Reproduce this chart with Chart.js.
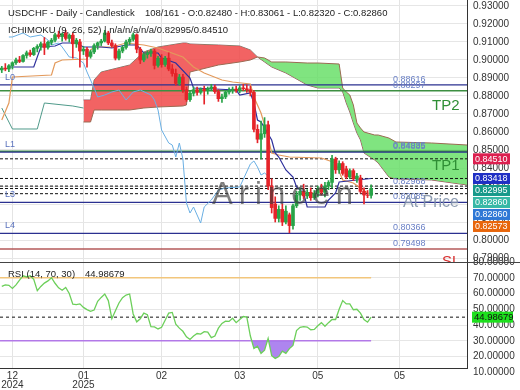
<!DOCTYPE html>
<html>
<head>
<meta charset="utf-8">
<script src="https://cdn.jsdelivr.net/npm/chart.js@4.4.1/dist/chart.umd.min.js"></script>
<style>
html, body { margin: 0; padding: 0; background: #fff; }
#quadro { position: relative; width: 520px; height: 390px; overflow: hidden; }
#graficoPreco { position: absolute; left: 0; top: 0; }
#graficoRsi { position: absolute; left: 0; top: 254px; }
</style>
</head>
<body>
<div id="quadro">
	<canvas id="graficoPreco" width="520" height="262"></canvas>
	<canvas id="graficoRsi" width="520" height="136"></canvas>
</div>
<script>
// velas diarias USDCHF (indice 0 = primeira barra visivel)
var velaAbertura = [0.8945,0.8955,0.8950,0.8968,0.8985,0.9000,0.8992,0.9025,0.9040,0.9030,
	0.9065,0.9075,0.9090,0.9070,0.9098,0.9110,0.9140,0.9130,0.9150,0.9120,
	0.9138,0.9090,0.9100,0.9050,0.9060,0.9020,0.9045,0.9080,0.9095,0.9105,
	0.9150,0.9095,0.9080,0.9010,0.9050,0.9070,0.9100,0.9115,0.9140,0.9060,
	0.9000,0.9030,0.9040,0.9050,0.8970,0.9010,0.8975,0.9010,0.8950,0.8925,
	0.8870,0.8905,0.8835,0.8780,0.8815,0.8835,0.8820,0.8838,0.8830,0.8842,
	0.8850,0.8825,0.8785,0.8795,0.8822,0.8830,0.8838,0.8832,0.8845,0.8840,
	0.8835,0.8820,0.8615,0.8560,0.8590,0.8640,0.8300,0.8200,0.8120,0.8170,
	0.8100,0.8140,0.8080,0.8190,0.8250,0.8270,0.8245,0.8265,0.8235,0.8260,
	0.8285,0.8265,0.8300,0.8320,0.8450,0.8390,0.8425,0.8395,0.8350,0.8385,
	0.8340,0.8345,0.8270,0.8250,0.82480];
var velaMaxima = [0.8965,0.8980,0.8975,0.8990,0.9010,0.9020,0.9030,0.9050,0.9055,0.9070,
	0.9085,0.9100,0.9125,0.9105,0.9120,0.9150,0.9160,0.9150,0.9165,0.9145,
	0.9150,0.9120,0.9115,0.9075,0.9070,0.9055,0.9090,0.9100,0.9115,0.9165,
	0.9160,0.9110,0.9090,0.9060,0.9080,0.9110,0.9125,0.9150,0.9145,0.9070,
	0.9040,0.9050,0.9060,0.9060,0.9020,0.9030,0.9020,0.9040,0.8975,0.8950,
	0.8920,0.8920,0.8850,0.8830,0.8850,0.8850,0.8845,0.8855,0.8850,0.8865,
	0.8860,0.8835,0.8810,0.8830,0.8845,0.8850,0.8855,0.8858,0.8865,0.8862,
	0.8855,0.8830,0.8640,0.8660,0.8680,0.8660,0.8340,0.8240,0.8190,0.8200,
	0.8190,0.8150,0.8200,0.8270,0.8290,0.8310,0.8280,0.8290,0.8275,0.8300,
	0.8310,0.8320,0.8330,0.8470,0.8460,0.8440,0.8435,0.8410,0.8395,0.8395,
	0.8370,0.8360,0.8290,0.8275,0.83061];
var velaMinima = [0.8930,0.8940,0.8935,0.8950,0.8975,0.8985,0.8988,0.9010,0.9020,0.9025,
	0.9045,0.9055,0.9030,0.9060,0.9085,0.9100,0.9120,0.9105,0.9110,0.9100,
	0.9010,0.9070,0.8960,0.9030,0.8960,0.9010,0.9035,0.9060,0.9080,0.9100,
	0.9085,0.9070,0.9000,0.9000,0.9040,0.9060,0.9085,0.9105,0.9040,0.8980,
	0.8990,0.9010,0.9020,0.8950,0.8960,0.8960,0.8965,0.8940,0.8910,0.8860,
	0.8860,0.8820,0.8770,0.8770,0.8800,0.8805,0.8810,0.8755,0.8810,0.8830,
	0.8815,0.8770,0.8765,0.8785,0.8810,0.8815,0.8820,0.8818,0.8830,0.8820,
	0.8800,0.8600,0.8540,0.8450,0.8570,0.8280,0.8150,0.8100,0.8100,0.8080,
	0.8090,0.8040,0.8060,0.8180,0.8220,0.8230,0.8230,0.8220,0.8225,0.8240,
	0.8250,0.8240,0.8280,0.8290,0.8370,0.8370,0.8360,0.8340,0.8340,0.8330,
	0.8320,0.8260,0.8200,0.8235,0.82320];
var velaFechamento = [0.8955,0.8950,0.8968,0.8985,0.9000,0.8992,0.9025,0.9040,0.9030,0.9065,
	0.9075,0.9090,0.9070,0.9098,0.9110,0.9140,0.9130,0.9145,0.9120,0.9138,
	0.9090,0.9110,0.9050,0.9060,0.9020,0.9045,0.9080,0.9095,0.9105,0.9150,
	0.9095,0.9080,0.9010,0.9050,0.9070,0.9100,0.9115,0.9140,0.9060,0.9000,
	0.9030,0.9040,0.9050,0.8970,0.9010,0.8975,0.9010,0.8950,0.8925,0.8870,
	0.8905,0.8835,0.8780,0.8815,0.8835,0.8820,0.8838,0.8830,0.8842,0.8850,
	0.8825,0.8785,0.8795,0.8822,0.8830,0.8838,0.8832,0.8845,0.8840,0.8835,
	0.8820,0.8615,0.8560,0.8590,0.8640,0.8300,0.8180,0.8120,0.8170,0.8100,
	0.8160,0.8080,0.8190,0.8250,0.8270,0.8245,0.8265,0.8235,0.8260,0.8285,
	0.8265,0.8300,0.8320,0.8450,0.8390,0.8425,0.8370,0.8350,0.8385,0.8340,
	0.8355,0.8270,0.8250,0.8248,0.82860];

// RSI(14) por barra
var rsiValores = [64.5,65.5,65.2,63.2,65.5,68.5,71.2,70.5,71.3,69,
	61.8,64.5,66.6,68,70,66.5,63.6,62.1,63.8,60,
	53.2,53,53.4,51.2,49.8,48.7,49.5,55,57.5,59.7,
	55.5,44,49,54,57.4,59,59.7,47,42,44,
	47.5,46.5,39,38.8,37.5,38.5,43,47.5,48,40.5,
	38,36,32.5,30.8,33,34.6,34.2,35.8,35.5,32,
	33,38,41,42.4,42.3,44.3,41.5,43.5,45.4,45,
	33,25.1,26.5,22,24,31.5,20.5,18.8,20,23.4,
	22,25,27,36.5,38.5,39,38.7,37,37.2,39.5,
	41.5,39.2,41.5,43.5,43.5,50,55.5,53.4,53.4,49.7,
	50,47.5,43.5,41.8,44.98679];
var rsiAtual = 44.98679;

// eixo de tempo
var mesesIdx = [3, 23, 45, 67, 89, 112];
var mesesRotulos = [['12', '2024'], ['01', '2025'], '02', '03', '05', '05'];
var precoTicks = [0.79, 0.80, 0.81, 0.82, 0.83, 0.84, 0.85, 0.86, 0.87, 0.88, 0.89, 0.90, 0.91, 0.92, 0.93];
var rsiTicks = [80, 70, 60, 50, 40, 30, 20, 10];

// ichimoku (9, 26, 52)
var tenkanIdx = [2, 9, 11, 15, 17, 21, 23, 28, 31, 35, 38, 40, 44, 45, 49, 53, 54, 66, 67, 70, 71, 72, 73, 76, 77, 78, 80, 82, 83, 85, 86, 91, 92, 94, 95, 100, 104];
var tenkanVal = [0.89611, 0.89611, 0.90722, 0.90778, 0.90944, 0.90944, 0.90722, 0.90722, 0.90667, 0.90833,
	0.90833, 0.90389, 0.90389, 0.90111, 0.89833, 0.89000, 0.88444, 0.88333, 0.88056, 0.88167,
	0.87611, 0.86667, 0.86556, 0.85556, 0.84833, 0.84611, 0.83889, 0.83500, 0.82944, 0.82611,
	0.81833, 0.81833, 0.82222, 0.82611, 0.83222, 0.83333, 0.83418];
var kijunIdx = [0, 2, 3, 14, 15, 17, 24, 25, 26, 31, 35, 40, 44, 51, 54, 57, 62, 65, 70, 71, 73, 75, 76, 78, 81, 90, 94, 96, 99, 101, 103, 104];
var kijunVal = [0.86667, 0.87611, 0.89056, 0.89167, 0.89833, 0.90000, 0.90056, 0.90556, 0.90722, 0.90722,
	0.90944, 0.90833, 0.90667, 0.90167, 0.89611, 0.89278, 0.88889, 0.88778, 0.88667, 0.87944,
	0.87056, 0.85722, 0.84833, 0.84722, 0.84611, 0.84556, 0.84278, 0.83333, 0.83167, 0.82889,
	0.82611, 0.82573];
var chikouIdx = [2, 3, 6, 8, 11, 13, 14, 16, 17, 19, 21, 23, 24, 25, 26, 27, 29, 31, 33, 35,
	37, 39, 42, 43, 44, 45, 47, 48, 49, 50, 51, 52, 53, 54, 55, 56, 57, 59, 61, 63,
	67, 70, 71, 72, 73, 74, 75];
var chikouVal = [0.91278, 0.91278, 0.91500, 0.91278, 0.91389, 0.91111, 0.90833, 0.90944, 0.90722, 0.90167,
	0.90111, 0.89833, 0.89333, 0.88889, 0.88444, 0.87944, 0.88056, 0.88222, 0.88333, 0.87778,
	0.88222, 0.88333, 0.88056, 0.87778, 0.87222, 0.86111, 0.85389, 0.85278, 0.84611, 0.85389,
	0.84500, 0.82056, 0.81500, 0.81833, 0.81389, 0.80944, 0.81833, 0.82222, 0.82778, 0.82889,
	0.82944, 0.84222, 0.84389, 0.84056, 0.83611, 0.83722, 0.83556];
var spanInicioIdx = [0, 3, 10, 12, 20, 23];
var spanInicioVal = [0.87333, 0.86167, 0.86167, 0.87611, 0.87444, 0.87333];
var nuvemIdx = [23, 25, 26, 28, 36, 40, 44, 51, 52, 53, 61, 67, 70, 72, 74, 76, 80, 86, 89, 95,
	96, 97, 98, 99, 100, 101, 102, 105, 106, 109, 111, 121, 131];
var nuvemA = [0.86556, 0.86556, 0.87222, 0.87222, 0.87222, 0.87333, 0.87389, 0.87444, 0.87500, 0.89333,
	0.89722, 0.89889, 0.90000, 0.90167, 0.90111, 0.89889, 0.89889, 0.89833, 0.89833, 0.89778,
	0.88444, 0.88222, 0.88056, 0.87500, 0.86500, 0.86222, 0.86000, 0.85833, 0.85833, 0.85667,
	0.85444, 0.85389, 0.85278];
var nuvemB = [0.87778, 0.87778, 0.88889, 0.89333, 0.89722, 0.90444, 0.90722, 0.90944, 0.90944, 0.90889,
	0.90833, 0.90778, 0.90556, 0.90167, 0.89889, 0.89611, 0.89278, 0.88611, 0.88444, 0.88444,
	0.88222, 0.87611, 0.87111, 0.86500, 0.85944, 0.85556, 0.84833, 0.84444, 0.84278, 0.83500,
	0.83389, 0.83333, 0.83056];

// niveis desenhados
var nivelAzul = [0.88616, 0.84885, 0.82085, 0.80366];
var nivelAzulNome = ['L0', 'L1', 'L3', 'L4'];
var nivelVerde = [0.88297, 0.84935];
var nivelVerdeNome = ['TP2', 'TP1'];
var nivelStop = 0.79498;
var nivelTracejado = [0.84510, 0.83418, 0.82995, 0.82860, 0.82573];
var rotulosValor = [0.88616, 0.88297, 0.84885, 0.84935, 0.82968, 0.82085, 0.80366, 0.79498];
var etiquetaValor = [0.84510, 0.83418, 0.82995, 0.82860, 0.82860, 0.82573];
var etiquetaCor = ['#dc1f4f', '#1f2fc4', '#17998a', '#37b8a6', '#2f78d6', '#e8660c'];

var xMin = -0.5, xMax = 131;
var precoMin = 0.78778, precoMax = 0.93333;
var fonte = '"Liberation Sans", Arial, sans-serif';

Chart.defaults.font.family = fonte;
Chart.defaults.animation = false;

function pontos(xs, ys) {
	return xs.map(function(x, i) { return {x: x, y: ys[i]}; });
}
function linhaReta(v, x0, x1) {
	return [{x: x0, y: v}, {x: x1, y: v}];
}
function linha(dados, cor, largura, ordem) {
	return {type: 'line', data: dados, borderColor: cor, borderWidth: largura, pointRadius: 0, tension: 0, fill: false, order: ordem};
}
function eixoDireita(escala) {
	escala.width = 53;
	escala.paddingTop = 0;
	escala.paddingBottom = 0;
}

var Grafico = {};

Grafico.Preco = (function() {

	function Preco() {
		this.ctx = document.getElementById('graficoPreco').getContext('2d');
	}

	Preco.prototype.iniciar = function() {
		var verde = '#27a347', vermelho = '#e52329';
		var cores = velaAbertura.map(function(o, i) { return velaFechamento[i] >= o ? verde : vermelho; });
		var corpos = velaAbertura.map(function(o, i) {
			var c = velaFechamento[i];
			return {x: i, y: [Math.min(o, c), Math.max(o, c)]};
		});
		var pavios = velaMinima.map(function(l, i) { return {x: i, y: [l, velaMaxima[i]]}; });

		var conjuntos = [
			{type: 'bar', data: corpos, backgroundColor: cores, barThickness: 3, grouped: false, order: 0},
			{type: 'bar', data: pavios, backgroundColor: cores, barThickness: 1, grouped: false, order: 1},
			linha(pontos(tenkanIdx, tenkanVal), '#2d2f9c', 1.2, 2),
			linha(pontos(kijunIdx, kijunVal), '#e39a5c', 1.2, 2),
			linha(pontos(chikouIdx, chikouVal), '#6aafe3', 1, 2),
			linha(pontos(spanInicioIdx, spanInicioVal), '#4f9a8a', 1, 2)
		];
		nivelAzul.forEach(function(v) { conjuntos.push(linha(linhaReta(v, xMin, xMax), '#2b3090', 1.3, 3)); });
		nivelVerde.forEach(function(v) { conjuntos.push(linha(linhaReta(v, xMin, xMax), '#3d8f42', 1.5, 3)); });
		conjuntos.push(linha(linhaReta(nivelStop, xMin, xMax), '#b45a5a', 1.6, 3));
		nivelTracejado.forEach(function(v) {
			var d = linha(linhaReta(v, xMin, xMax), '#111', 1, 3);
			d.borderDash = [3, 2];
			conjuntos.push(d);
		});
		// nuvem: A preenche ate B (verde acima, vermelho abaixo)
		var a = linha(pontos(nuvemIdx, nuvemA), '#9a6a52', 1, 6);
		a.fill = {target: '+1', above: 'rgba(100,222,100,0.82)', below: 'rgba(240,72,72,0.85)'};
		conjuntos.push(a);
		conjuntos.push(linha(pontos(nuvemIdx, nuvemB), '#8a6a70', 1, 6));

		new Chart(this.ctx, {
			type: 'line',
			data: {datasets: conjuntos},
			options: {
				responsive: false,
				layout: {padding: 0},
				plugins: {legend: {display: false}, tooltip: {enabled: false}},
				scales: {
					x: {
						type: 'linear', min: xMin, max: xMax, offset: false,
						afterBuildTicks: function(s) { s.ticks = mesesIdx.map(function(v) { return {value: v}; }); },
						afterFit: function(s) { s.height = 0; s.paddingLeft = 0; s.paddingRight = 0; },
						ticks: {display: false},
						grid: {color: '#e4e4e4', drawTicks: false, offset: false},
						border: {display: false}
					},
					y: {
						type: 'linear', position: 'right', min: precoMin, max: precoMax,
						afterBuildTicks: function(s) { s.ticks = precoTicks.map(function(v) { return {value: v}; }); },
						afterFit: eixoDireita,
						ticks: {callback: function(v) { return v.toFixed(5); }, font: {size: 10}, color: '#333', padding: 6},
						grid: {color: '#e6e6e6', drawTicks: false},
						border: {color: '#333'}
					}
				}
			},
			plugins: [textosPreco]
		});
	};

	var textosPreco = {
		id: 'textosPreco',
		afterDatasetsDraw: function(chart) {
			var ctx = chart.ctx, y = chart.scales.y, area = chart.chartArea;
			ctx.save();
			ctx.beginPath();
			ctx.rect(area.left, area.top, area.right - area.left, area.bottom - area.top);
			ctx.clip();

			ctx.font = '31px ' + fonte;
			ctx.fillStyle = 'rgba(60,60,60,0.66)';
			if ('letterSpacing' in ctx) ctx.letterSpacing = '6px';
			ctx.fillText('Arincen', 212, 204);
			if ('letterSpacing' in ctx) ctx.letterSpacing = '0px';

			ctx.font = '9px ' + fonte;
			ctx.fillStyle = '#5a72bd';
			nivelAzul.forEach(function(v, i) { ctx.fillText(nivelAzulNome[i], 5, y.getPixelForValue(v) - 5); });
			ctx.fillStyle = '#6a80c6';
			rotulosValor.forEach(function(v) { ctx.fillText(v.toFixed(5), 393, y.getPixelForValue(v) - 3); });

			ctx.font = '15px ' + fonte;
			ctx.fillStyle = '#2f8f35';
			nivelVerde.forEach(function(v, i) { ctx.fillText(nivelVerdeNome[i], 432, y.getPixelForValue(v) + 19); });
			ctx.fillStyle = '#d83030';
			ctx.fillText('SL', 442, y.getPixelForValue(nivelStop) + 17);

			ctx.font = '16px ' + fonte;
			ctx.fillStyle = 'rgba(128,144,168,0.9)';
			ctx.fillText('At Price', 403, y.getPixelForValue(velaFechamento[velaFechamento.length - 1]) + 18);
			ctx.restore();
		},
		afterDraw: function(chart) {
			var ctx = chart.ctx, y = chart.scales.y;
			ctx.save();
			ctx.font = '9px ' + fonte;
			ctx.textBaseline = 'middle';
			var anterior = -100;
			etiquetaValor.forEach(function(v, i) {
				var py = Math.max(y.getPixelForValue(v), anterior + 12);
				anterior = py;
				ctx.fillStyle = etiquetaCor[i];
				ctx.fillRect(473, py - 5.5, 37, 11);
				ctx.fillStyle = '#fff';
				ctx.fillText(v.toFixed(5), 475, py + 0.5);
			});

			ctx.textBaseline = 'alphabetic';
			ctx.font = '9.5px ' + fonte;
			ctx.fillStyle = '#222';
			ctx.fillText('USDCHF - Daily - Candlestick', 8, 16);
			ctx.fillText('108/161 - O:0.82480 - H:0.83061 - L:0.82320 - C:0.82860', 145, 16);
			ctx.fillText('ICHIMOKU (9, 26, 52) | n/a/n/a/n/a/0.82995/0.84510', 8, 33);
			ctx.restore();
		}
	};

	return Preco;

}());

Grafico.Rsi = (function() {

	function Rsi() {
		this.ctx = document.getElementById('graficoRsi').getContext('2d');
	}

	Rsi.prototype.iniciar = function() {
		var ultimoIdx = rsiValores.length - 1;
		var linhaRsi = linha(pontos(rsiValores.map(function(v, i) { return i; }), rsiValores), '#6ccf5a', 1.3, 0);
		linhaRsi.fill = {target: {value: 30}, above: 'rgba(0,0,0,0)', below: 'rgba(160,112,236,0.85)'};
		var tracejado = linha(linhaReta(rsiAtual, xMin, xMax), '#111', 1, 1);
		tracejado.borderDash = [3, 3];

		new Chart(this.ctx, {
			type: 'line',
			data: {
				datasets: [
					linhaRsi,
					linha(linhaReta(70, xMin, ultimoIdx), '#f2c67c', 1.4, 2),
					linha(linhaReta(30, xMin, ultimoIdx), '#b57be8', 1.5, 2),
					tracejado
				]
			},
			options: {
				responsive: false,
				layout: {padding: {top: 8}},
				plugins: {legend: {display: false}, tooltip: {enabled: false}},
				scales: {
					x: {
						type: 'linear', min: xMin, max: xMax, offset: false,
						afterBuildTicks: function(s) { s.ticks = mesesIdx.map(function(v) { return {value: v}; }); },
						afterFit: function(s) { s.height = 22; s.paddingLeft = 0; s.paddingRight = 0; },
						ticks: {
							callback: function(v, i) { return mesesRotulos[i]; },
							autoSkip: false, maxRotation: 0, padding: 3, color: '#333',
							font: {size: 10, lineHeight: 0.95}
						},
						grid: {color: '#e4e4e4', drawTicks: false},
						border: {color: '#333'}
					},
					y: {
						type: 'linear', position: 'right', min: 12.7, max: 80,
						afterBuildTicks: function(s) { s.ticks = rsiTicks.map(function(v) { return {value: v}; }); },
						afterFit: eixoDireita,
						ticks: {callback: function(v) { return v.toFixed(5); }, font: {size: 10}, color: '#333', padding: 6},
						grid: {
							color: function(c) { return (c.tick && (c.tick.value >= 80 || c.tick.value <= 10)) ? 'rgba(0,0,0,0)' : '#e6e6e6'; },
							drawTicks: false
						},
						border: {color: '#333'}
					}
				}
			},
			plugins: [textosRsi]
		});
	};

	var textosRsi = {
		id: 'textosRsi',
		afterDraw: function(chart) {
			var ctx = chart.ctx, y = chart.scales.y, area = chart.chartArea;
			ctx.save();
			ctx.strokeStyle = '#444';
			ctx.lineWidth = 1;
			ctx.beginPath();
			ctx.moveTo(0, area.top + 0.5);
			ctx.lineTo(chart.width, area.top + 0.5);
			ctx.stroke();

			ctx.font = '9.5px ' + fonte;
			ctx.fillStyle = '#222';
			ctx.fillText('RSI (14, 70, 30)', 8, area.top + 14.5);
			ctx.fillText(rsiAtual.toFixed(5), 85, area.top + 14.5);

			var py = y.getPixelForValue(rsiAtual);
			ctx.fillStyle = '#1de01d';
			ctx.fillRect(472, py - 5.5, 41, 11);
			ctx.fillStyle = '#111';
			ctx.textBaseline = 'middle';
			ctx.font = '9.5px ' + fonte;
			ctx.fillText(rsiAtual.toFixed(5), 474, py + 0.5);
			ctx.restore();
		}
	};

	return Rsi;

}());

var graficoPreco = new Grafico.Preco();
graficoPreco.iniciar();

var graficoRsi = new Grafico.Rsi();
graficoRsi.iniciar();
</script>
</body>
</html>
